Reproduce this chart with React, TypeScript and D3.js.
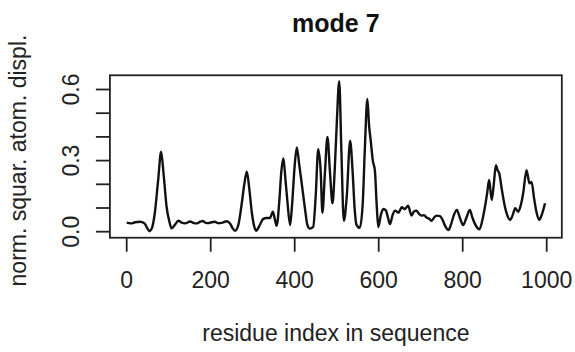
import React from "react";
import * as d3 from "d3";

const residueIdx = [0,10,20,32,42,50,54,60,67,75,82,88,95,102,107,115,123,131,139,151,160,167,175,181,188,194,202,210,218,226,238,246,252,258,266,274,280,286,292,298,304,308,316,325,333,341,348,353,357,363,368,373,378,383,389,394,400,405,411,417,425,430,436,444,450,456,462,466,472,478,484,490,495,500,506,511,517,524,532,538,543,547,555,562,567,573,577,581,586,591,595,599,605,611,617,622,627,633,639,647,655,662,670,678,684,690,696,702,708,714,720,726,732,738,746,752,758,766,772,779,786,793,801,809,817,823,830,840,847,853,858,863,869,874,879,883,887,893,900,906,913,919,925,932,938,944,952,959,964,970,976,982,988,996];
const displ = [0.038,0.035,0.040,0.042,0.036,0.012,0.002,0.015,0.08,0.22,0.338,0.24,0.105,0.04,0.014,0.03,0.046,0.038,0.035,0.043,0.036,0.035,0.042,0.045,0.037,0.036,0.04,0.042,0.036,0.037,0.044,0.035,0.015,0.004,0.03,0.12,0.2,0.253,0.18,0.08,0.02,0.004,0.025,0.054,0.058,0.058,0.084,0.05,0.025,0.12,0.25,0.31,0.22,0.12,0.028,0.12,0.28,0.356,0.28,0.2,0.09,0.03,0.013,0.02,0.15,0.348,0.25,0.08,0.25,0.40,0.25,0.12,0.25,0.45,0.635,0.35,0.046,0.15,0.384,0.25,0.09,0.03,0.016,0.12,0.35,0.56,0.45,0.384,0.3,0.257,0.12,0.02,0.07,0.096,0.09,0.06,0.032,0.07,0.089,0.08,0.103,0.095,0.11,0.068,0.085,0.089,0.075,0.068,0.07,0.06,0.055,0.046,0.06,0.068,0.066,0.05,0.025,0.007,0.03,0.07,0.092,0.06,0.028,0.06,0.092,0.06,0.03,0.01,0.05,0.105,0.16,0.218,0.134,0.2,0.281,0.26,0.246,0.18,0.11,0.07,0.05,0.07,0.099,0.084,0.11,0.162,0.26,0.204,0.21,0.14,0.08,0.05,0.07,0.12];

const xTicks = [0, 200, 400, 600, 800, 1000];
const yTicks = [0, 0.1, 0.2, 0.3, 0.4, 0.5, 0.6];
const yLabels = [0, 0.3, 0.6];
const title = "mode 7";
const xTitle = "residue index in sequence";
const yTitle = "norm. squar. atom. displ.";

const W = 575, H = 352;
const font = "'Liberation Sans', Arial, sans-serif";

export default function App() {
  const x = d3.scaleLinear().domain([0, 1000]).range([126.7, 546.7]);
  const y = d3.scaleLinear().domain([0, 0.6]).range([231.7, 89.5]);
  const bx0 = x(-40), bx1 = x(1036), by0 = y(0.66), by1 = y(-0.0254);
  const pts: [number, number][] = residueIdx.map((r, i) => [r, displ[i]]);
  const line = d3.line<[number, number]>().x(d => x(d[0])).y(d => y(d[1])).curve(d3.curveMonotoneX);
  const tick = 14;
  const axisCol = "#222";
  return (
    <svg width={W} height={H} style={{ position: "absolute", left: 0, top: 0, background: "#fff" }} fontFamily={font}>
      <rect x={0} y={0} width={W} height={H} fill="#fff" />
      <text x={(bx0 + bx1) / 2} y={31.5} textAnchor="middle" fontSize={25} fontWeight="bold" fill="#111">{title}</text>
      <path d={line(pts) || ""} fill="none" stroke="#111" strokeWidth={2.4} strokeLinejoin="round" />
      <rect x={bx0} y={by0} width={bx1 - bx0} height={by1 - by0} fill="none" stroke={axisCol} strokeWidth={1.8} />
      {xTicks.map(t => (
        <g key={"x" + t}>
          <line x1={x(t)} x2={x(t)} y1={by1} y2={by1 + tick} stroke={axisCol} strokeWidth={1.8} />
          <text x={x(t)} y={288} textAnchor="middle" fontSize={23} fill="#222">{t}</text>
        </g>
      ))}
      {yTicks.map(t => (
        <line key={"y" + t} x1={bx0 - tick} x2={bx0} y1={y(t)} y2={y(t)} stroke={axisCol} strokeWidth={1.8} />
      ))}
      {yLabels.map(t => (
        <text key={"yl" + t} transform={`translate(79,${y(t)}) rotate(-90)`} textAnchor="middle" fontSize={23} fill="#222">{t.toFixed(1)}</text>
      ))}
      <text x={(bx0 + bx1) / 2} y={341} textAnchor="middle" fontSize={23} fill="#222">{xTitle}</text>
      <text transform={`translate(26,${(by0 + by1) / 2 + 4}) rotate(-90)`} textAnchor="middle" fontSize={23} fill="#222">{yTitle}</text>
    </svg>
  );
}
